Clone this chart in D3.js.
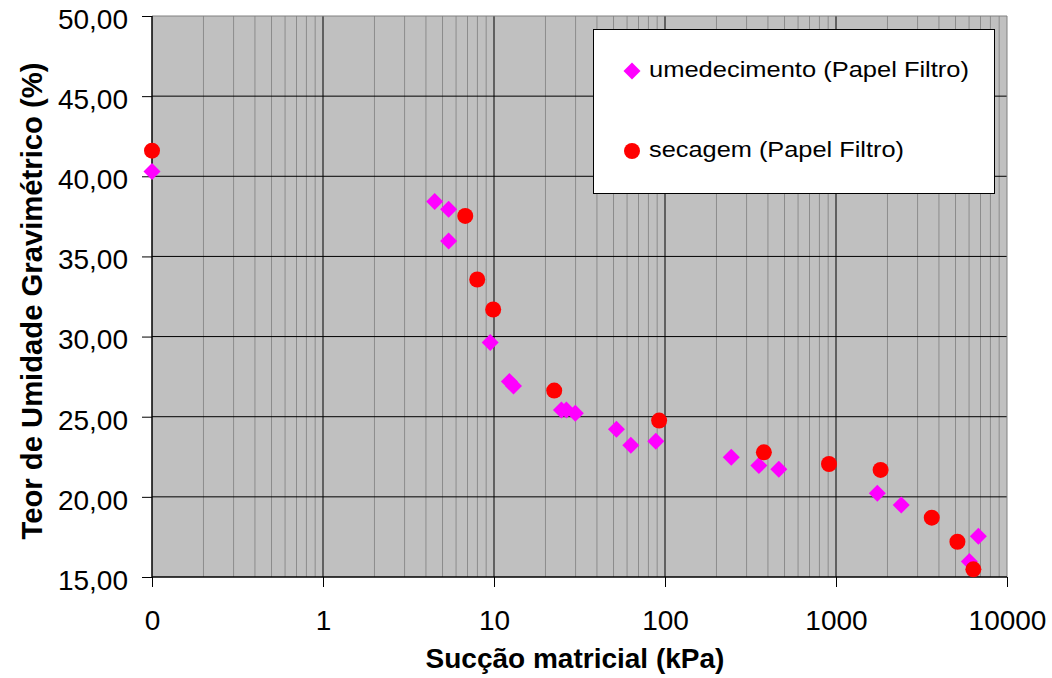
<!DOCTYPE html>
<html><head><meta charset="utf-8">
<script src="https://cdn.jsdelivr.net/npm/d3@7"></script>
<style>body{margin:0;background:#fff}svg{display:block}</style>
</head><body>
<svg id="c" width="1052" height="678"></svg>
<script>
// Data (kPa, %)
const wetSuction = [0.1, 4.5, 5.43, 5.43, 9.5, 12.3, 13.0, 24.8, 26.5, 29.9, 52.0, 63.1, 88.4, 244, 354, 463, 1744, 2407, 6802, 6026];
const wetMoisture = [40.3, 38.43, 37.95, 35.97, 29.63, 27.19, 26.92, 25.42, 25.42, 25.22, 24.22, 23.22, 23.47, 22.47, 21.95, 21.72, 20.22, 19.49, 17.54, 15.96];
const dryRunSuction = [0.1, 6.79, 7.98, 9.89, 22.5, 92.4, 378.6, 910, 1823, 3631, 5129, 6357];
const dryMoisture = [41.6, 37.53, 33.56, 31.69, 26.63, 24.76, 22.78, 22.05, 21.68, 18.70, 17.20, 15.48];
const xTickValues = [0.1, 1, 10, 100, 1000, 10000];
const xTickLabels = ["0", "1", "10", "100", "1000", "10000"];
const yTickValues = [15, 20, 25, 30, 35, 40, 45, 50];
const seriesNames = ["umedecimento (Papel Filtro)", "secagem (Papel Filtro)"];

const svg = d3.select("#c");
const L = 152, R = 1007, T = 16, B = 577;
const x = d3.scaleLog().domain([0.1, 10000]).range([L, R]);
const y = d3.scaleLinear().domain([15, 50]).range([B, T]);
const font = "'Liberation Sans', Arial, sans-serif";

svg.append("rect").attr("x", L).attr("y", T).attr("width", R - L).attr("height", B - T).attr("fill", "#c0c0c0");

// minor vertical gridlines
const minors = [];
for (let d = 0.1; d < 10000; d *= 10) for (let k = 2; k <= 9; k++) minors.push(d * k);
svg.append("g").selectAll("line").data(minors).join("line")
  .attr("x1", d => x(d)).attr("x2", d => x(d)).attr("y1", T).attr("y2", B)
  .attr("stroke", "#8c8c8c").attr("stroke-width", 1);
// major vertical
svg.append("g").selectAll("line").data(xTickValues.slice(1, -1)).join("line")
  .attr("x1", d => x(d)).attr("x2", d => x(d)).attr("y1", T).attr("y2", B)
  .attr("stroke", "#000").attr("stroke-width", 1);
// horizontal major
svg.append("g").selectAll("line").data(yTickValues.slice(1)).join("line")
  .attr("x1", L).attr("x2", R).attr("y1", d => y(d)).attr("y2", d => y(d))
  .attr("stroke", d => d === 50 ? "#808080" : "#000").attr("stroke-width", 1);
svg.append("line").attr("x1", R).attr("x2", R).attr("y1", T).attr("y2", B).attr("stroke", "#808080");

// axes
const yAxis = d3.axisLeft(y).tickValues(yTickValues).tickSize(10).tickPadding(14)
  .tickFormat(d => d3.format(".2f")(d).replace(".", ","));
const gy = svg.append("g").attr("transform", `translate(${L},0)`).call(yAxis);
gy.selectAll("text").attr("dy", "0.44em");
const xAxis = d3.axisBottom(x).tickValues(xTickValues).tickSize(10).tickPadding(23)
  .tickFormat((d, i) => xTickLabels[i]);
const gx = svg.append("g").attr("transform", `translate(0,${B})`).call(xAxis);
[gx, gy].forEach(g => {
  g.selectAll("text").attr("font-family", font).attr("font-size", 28).attr("fill", "#000");
  g.selectAll("line").attr("stroke", "#000");
  g.select(".domain").attr("stroke", "#000").attr("stroke-width", 1.5);
});
gx.select(".domain").attr("d", `M${L},0H${R}`);
gy.select(".domain").attr("d", `M0,${B}V${T}`);

// points
const wet = wetSuction.map((s, i) => ({s, m: wetMoisture[i]}));
const dry = dryRunSuction.map((s, i) => ({s, m: dryMoisture[i]}));
const diamond = "M0,-8.5L8.5,0L0,8.5L-8.5,0Z";
svg.append("g").selectAll("path").data(wet).join("path")
  .attr("d", diamond).attr("transform", d => `translate(${x(d.s)},${y(d.m)})`).attr("fill", "#ff00ff");
svg.append("g").selectAll("circle").data(dry).join("circle")
  .attr("cx", d => x(d.s)).attr("cy", d => y(d.m)).attr("r", 8).attr("fill", "#ff0000");

// legend
const lg = svg.append("g");
lg.append("rect").attr("x", 593.5).attr("y", 29.5).attr("width", 401).attr("height", 164)
  .attr("fill", "#fff").attr("stroke", "#000").attr("stroke-width", 1);
lg.append("path").attr("d", diamond).attr("transform", "translate(632,71)").attr("fill", "#ff00ff");
lg.append("circle").attr("cx", 632).attr("cy", 151).attr("r", 8).attr("fill", "#ff0000");
lg.selectAll("text").data(seriesNames).join("text")
  .attr("x", 649).attr("y", (d, i) => i === 0 ? 77 : 157)
  .attr("textLength", (d, i) => i === 0 ? 320 : 255).attr("lengthAdjust", "spacingAndGlyphs")
  .attr("font-family", font).attr("font-size", 22.5).attr("fill", "#000").text(d => d);

// titles
svg.append("text").attr("x", 575).attr("y", 668).attr("text-anchor", "middle")
  .attr("font-family", font).attr("font-size", 28).attr("font-weight", "bold").text("Sucção matricial (kPa)");
svg.append("text").attr("transform", "translate(42,301) rotate(-90)").attr("text-anchor", "middle")
  .attr("textLength", 477).attr("lengthAdjust", "spacingAndGlyphs")
  .attr("font-family", font).attr("font-size", 30).attr("font-weight", "bold").text("Teor de Umidade Gravimétrico (%)");
</script>
</body></html>
